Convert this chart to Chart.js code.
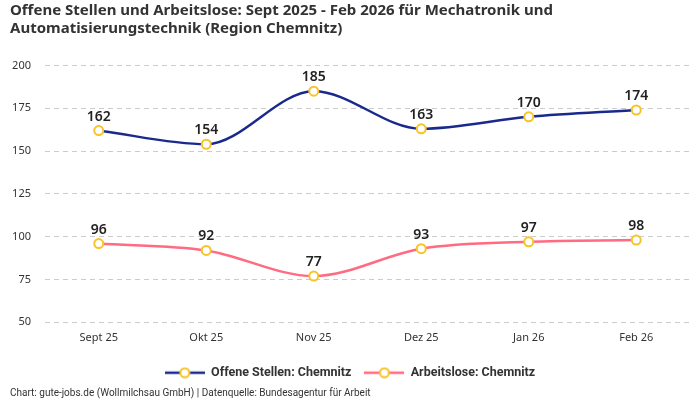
<!DOCTYPE html>
<html><head><meta charset="utf-8">
<script src="https://cdn.jsdelivr.net/npm/chart.js@4"></script>
<style>html,body{margin:0;padding:0;background:#fff;}#wrap{width:700px;height:400px;position:relative;}</style>
</head><body><div id="wrap"><canvas id="c" width="700" height="400"></canvas></div>
<script>
const categories = ['Sept 25','Okt 25','Nov 25','Dez 25','Jan 26','Feb 26'];
const offeneStellen = [162,154,185,163,170,174];
const arbeitslose = [96,92,77,93,97,98];
const seriesNames = ['Offene Stellen: Chemnitz','Arbeitslose: Chemnitz'];
const titleLines = ['Offene Stellen und Arbeitslose: Sept 2025 - Feb 2026 für Mechatronik und','Automatisierungstechnik (Region Chemnitz)'];
const footerText = 'Chart: gute-jobs.de (Wollmilchsau GmbH) | Datenquelle: Bundesagentur für Arbeit';

const FONT = "'Noto Sans', Roboto, sans-serif";
const BLUE = '#1a2a8c', PINK = '#ff6b81', YEL = '#f7c325';

function legendIcon(color){
  const c = document.createElement('canvas'); c.width = 40; c.height = 12;
  const x = c.getContext('2d');
  x.strokeStyle = color; x.lineWidth = 2.5;
  x.beginPath(); x.moveTo(0,6); x.lineTo(40,6); x.stroke();
  x.beginPath(); x.arc(20,6,4.5,0,Math.PI*2); x.fillStyle='#fff'; x.fill();
  x.strokeStyle = YEL; x.lineWidth = 2; x.stroke();
  return c;
}

const valueLabels = {
  id:'valueLabels',
  afterDatasetsDraw(chart){
    const ctx = chart.ctx; ctx.save();
    ctx.font = "600 14px " + FONT; ctx.fillStyle = '#222'; ctx.textAlign='center'; ctx.textBaseline='bottom';
    chart.data.datasets.forEach((ds,i)=>{
      chart.getDatasetMeta(i).data.forEach((pt,j)=>{ ctx.fillText(ds.data[j], pt.x, pt.y - 7); });
    });
    ctx.restore();
  }
};
const footer = {
  id:'footer',
  afterDraw(chart){
    const ctx = chart.ctx; ctx.save();
    ctx.font = "10px Roboto, 'Noto Sans', sans-serif"; ctx.fillStyle = '#333'; ctx.textAlign='left'; ctx.textBaseline='middle';
    ctx.fillText(footerText, 10, 393); ctx.restore();
  }
};

Chart.defaults.font.family = FONT;
new Chart(document.getElementById('c'), {
  type:'line',
  data:{ labels:categories, datasets:[
    {label:seriesNames[0], data:offeneStellen, borderColor:BLUE, backgroundColor:BLUE, borderWidth:2.5, cubicInterpolationMode:'monotone',
     pointRadius:4.5, pointBorderWidth:2, pointBackgroundColor:'#fff', pointBorderColor:YEL, pointStyle:'circle'},
    {label:seriesNames[1], data:arbeitslose, borderColor:PINK, backgroundColor:PINK, borderWidth:2.5, cubicInterpolationMode:'monotone',
     pointRadius:4.5, pointBorderWidth:2, pointBackgroundColor:'#fff', pointBorderColor:YEL, pointStyle:'circle'}
  ]},
  options:{
    responsive:false, animation:false,
    layout:{padding:{left:10,right:10,top:0,bottom:11}},
    plugins:{
      title:{display:true, text:titleLines, align:'start', color:'#333', font:{size:15, weight:'bold', family:FONT, lineHeight:1.25}, padding:{top:1,bottom:27}},
      legend:{position:'bottom', labels:{usePointStyle:true, pointStyleWidth:40, color:'#333', font:{size:12.5, weight:'bold', family:"Roboto, 'Noto Sans', sans-serif"}, padding:13,
        generateLabels(chart){ return chart.data.datasets.map((ds,i)=>({text:ds.label, pointStyle:legendIcon(ds.borderColor), datasetIndex:i, fontColor:'#333', lineWidth:0, strokeStyle:'transparent', fillStyle:'transparent'})); }}},
      tooltip:{enabled:false}
    },
    scales:{
      x:{offset:true, grid:{display:false, drawTicks:false}, border:{display:false}, ticks:{color:'#333', font:{size:11}, padding:9}},
      y:{min:50, max:200, afterFit(s){ s.width = 35; }, ticks:{stepSize:25, color:'#333', font:{size:11}, padding:14},
         grid:{color:'#cccccc', drawTicks:false}, border:{display:false, dash:[5,4]}}
    }
  },
  plugins:[valueLabels, footer]
});
</script></body></html>
